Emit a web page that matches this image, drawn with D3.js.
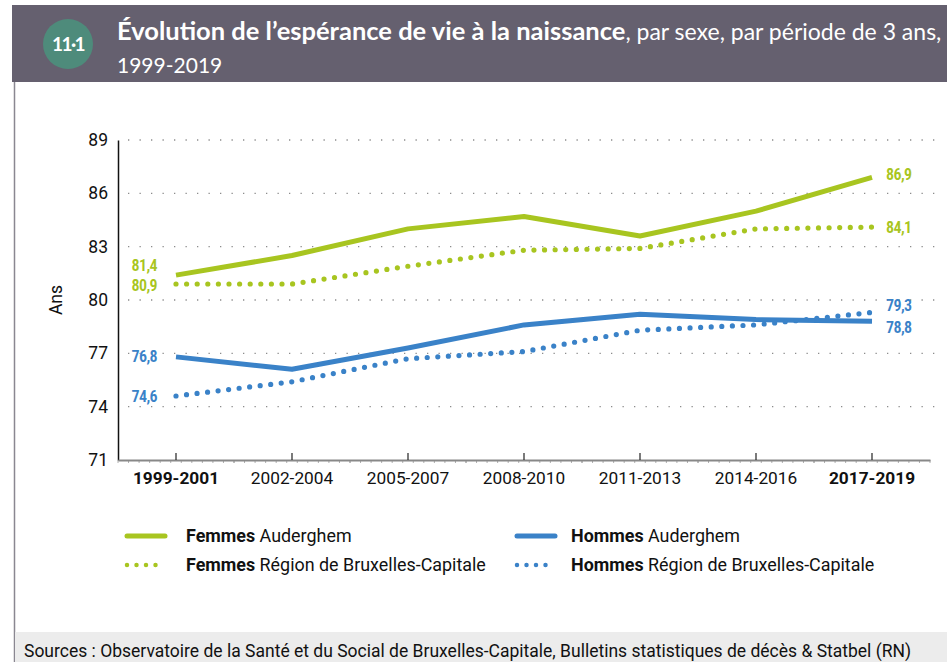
<!DOCTYPE html>
<html lang="fr">
<head>
<meta charset="utf-8">
<script src="https://cdn.jsdelivr.net/npm/d3@7"></script>
<style>
  html, body { margin: 0; padding: 0; background: #fff; }
  svg { display: block; }
</style>
</head>
<body>
<svg id="chart" width="947" height="662"></svg>
<script>
// Périodes de 3 ans
const periods = ["1999-2001", "2002-2004", "2005-2007", "2008-2010", "2011-2013", "2014-2016", "2017-2019"];
const boldPeriods = ["1999-2001", "2017-2019"];

// Espérance de vie à la naissance (années)
const femmesAuderghem = [81.4, 82.5, 84.0, 84.7, 83.6, 85.0, 86.9];
const femmesBruxelles = [80.9, 80.9, 81.9, 82.8, 82.9, 84.0, 84.1];
const hommesAuderghem = [76.8, 76.1, 77.3, 78.6, 79.2, 78.9, 78.8];
const hommesBruxelles = [74.6, 75.4, 76.7, 77.1, 78.3, 78.6, 79.3];

const yTicks = [71, 74, 77, 80, 83, 86, 89];

const GREEN = "#a8c520";
const BLUE = "#3a82c8";
const bodyFont = "Roboto, 'Open Sans', sans-serif";

const series = [
  { name: "Femmes", place: "Auderghem", values: femmesAuderghem, color: GREEN, dotted: false },
  { name: "Femmes", place: "Région de Bruxelles-Capitale", values: femmesBruxelles, color: GREEN, dotted: true },
  { name: "Hommes", place: "Auderghem", values: hommesAuderghem, color: BLUE, dotted: false },
  { name: "Hommes", place: "Région de Bruxelles-Capitale", values: hommesBruxelles, color: BLUE, dotted: true }
];

const svg = d3.select("#chart");
const fmt = v => d3.format(".1f")(v).replace(".", ",");

// ---- En-tête ----
svg.append("rect").attr("x", 12).attr("y", 5).attr("width", 935).attr("height", 77).attr("fill", "#65606f");
svg.append("line").attr("x1", 14.5).attr("x2", 14.5).attr("y1", 82).attr("y2", 662)
  .attr("stroke", "#8a8791").attr("stroke-width", 1.5);
svg.append("circle").attr("cx", 68).attr("cy", 44).attr("r", 25).attr("fill", "#4e8b7b");
svg.append("text").attr("x", 68).attr("y", 51).attr("text-anchor", "middle")
  .attr("fill", "#fff").attr("font-family", "Lato, sans-serif").attr("font-weight", 700)
  .attr("font-size", 19).attr("letter-spacing", -1.6).text("11·1");

const title = svg.append("text").attr("x", 117).attr("y", 40)
  .attr("fill", "#fff").attr("font-family", "Lato, sans-serif");
title.append("tspan").attr("font-weight", 700).attr("font-size", 25.5)
  .text("Évolution de l’espérance de vie à la naissance");
title.append("tspan").attr("font-weight", 400).attr("font-size", 23)
  .text(", par sexe, par période de 3 ans,");
svg.append("text").attr("x", 117).attr("y", 73)
  .attr("fill", "#fff").attr("font-family", "Lato, sans-serif").attr("font-size", 21).text("1999-2019");

// ---- Pied de page ----
svg.append("rect").attr("x", 15).attr("y", 632).attr("width", 932).attr("height", 30).attr("fill", "#ececec");
svg.append("text").attr("x", 24).attr("y", 657).attr("fill", "#111")
  .attr("font-family", bodyFont).attr("font-size", 17.5)
  .text("Sources : Observatoire de la Santé et du Social de Bruxelles-Capitale, Bulletins statistiques de décès & Statbel (RN)");

// ---- Échelles ----
const x = d3.scaleBand().domain(periods).range([118, 930]);
const cx = p => x(p) + x.bandwidth() / 2;
const y = d3.scaleLinear().domain([71, 89]).range([460, 140]);

// Grille pointillée
svg.append("g").selectAll("line").data(yTicks.filter(t => t > 71)).join("line")
  .attr("x1", 128).attr("x2", 942)
  .attr("y1", d => y(d)).attr("y2", d => y(d))
  .attr("stroke", "#8c8c8c").attr("stroke-width", 1.3)
  .attr("stroke-dasharray", "1.3 10.2");

// Axe Y
const yAxis = svg.append("g").attr("transform", "translate(118,0)")
  .call(d3.axisLeft(y).tickValues(yTicks).tickSize(0).tickPadding(10));
yAxis.select(".domain").attr("stroke", "#111").attr("stroke-width", 1.5);
yAxis.selectAll("text").attr("font-family", bodyFont).attr("font-size", 17.5).attr("fill", "#111");

svg.append("text").attr("transform", "translate(62,300) rotate(-90)")
  .attr("text-anchor", "middle").attr("font-family", bodyFont).attr("font-size", 17.5)
  .attr("fill", "#111").text("Ans");

// Axe X : graduations mineures
const minor = [];
periods.forEach(p => { for (let i = 0; i <= 11; i++) minor.push(x(p) + i * x.bandwidth() / 11); });
svg.append("g").selectAll("line").data(minor).join("line")
  .attr("x1", d => d).attr("x2", d => d).attr("y1", 460).attr("y2", 463)
  .attr("stroke", "#999").attr("stroke-width", 0.8);

const xAxis = svg.append("g").attr("transform", "translate(0,460)")
  .call(d3.axisBottom(x).tickSizeInner(-7).tickSizeOuter(0).tickPadding(12));
xAxis.select(".domain").attr("stroke", "#888").attr("stroke-width", 2);
xAxis.selectAll(".tick line").attr("stroke", "#222").attr("stroke-width", 1.2);
xAxis.selectAll("text").attr("font-family", bodyFont).attr("font-size", 17.3).attr("fill", "#111")
  .attr("font-weight", d => boldPeriods.includes(d) ? 700 : 400);

// ---- Courbes ----
const line = d3.line().x((d, i) => cx(periods[i])).y(d => y(d));
const lines = svg.append("g");
series.forEach(s => {
  const path = lines.append("path").datum(s.values).attr("d", line)
    .attr("fill", "none").attr("stroke", s.color);
  if (s.dotted) {
    path.attr("stroke-width", 5.2).attr("stroke-linecap", "round").attr("stroke-dasharray", "0 10.6");
  } else {
    path.attr("stroke-width", 5).attr("stroke-linejoin", "round").attr("stroke-linecap", "butt");
  }
});

// ---- Étiquettes de valeurs ----
const labelFont = "'Roboto Condensed', Roboto, sans-serif";
const leftOffsets = [-10, 1, -1, 0];
const rightOffsets = [-3, 0, 6, -7];
series.forEach((s, k) => {
  svg.append("text").attr("x", 157).attr("y", y(s.values[0]) + leftOffsets[k] + 6)
    .attr("text-anchor", "end").attr("fill", s.color).attr("font-family", labelFont)
    .attr("font-weight", 600).attr("font-size", 16).attr("letter-spacing", -0.6)
    .text(fmt(s.values[0]));
  svg.append("text").attr("x", 886).attr("y", y(s.values[s.values.length - 1]) + rightOffsets[k] + 6)
    .attr("fill", s.color).attr("font-family", labelFont)
    .attr("font-weight", 600).attr("font-size", 16).attr("letter-spacing", -0.6)
    .text(fmt(s.values[s.values.length - 1]));
});

// ---- Légende ----
const legendPos = [
  { x: 125, y: 536, tx: 61 }, { x: 125, y: 565, tx: 61 },
  { x: 515, y: 536, tx: 56 }, { x: 515, y: 565, tx: 56 }
];
series.forEach((s, k) => {
  const p = legendPos[k];
  const g = svg.append("g").attr("transform", `translate(${p.x},${p.y})`);
  const l = g.append("line").attr("x1", 2).attr("x2", 40).attr("y1", 0).attr("y2", 0)
    .attr("stroke", s.color).attr("stroke-linecap", "round");
  if (s.dotted) l.attr("stroke-width", 4.5).attr("stroke-dasharray", "0 9.5");
  else l.attr("stroke-width", 5);
  const t = g.append("text").attr("x", p.tx).attr("y", 6).attr("fill", "#111")
    .attr("font-family", bodyFont).attr("font-size", 17.9);
  t.append("tspan").attr("font-weight", 700).text(s.name);
  t.append("tspan").attr("font-weight", 400).text(" " + s.place);
});
</script>
</body>
</html>
